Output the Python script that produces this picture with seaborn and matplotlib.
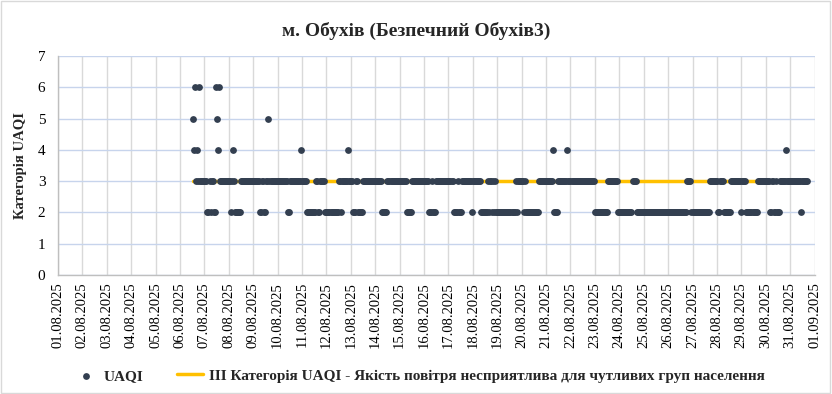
import matplotlib
matplotlib.use('Agg')
import matplotlib.pyplot as plt
import matplotlib.dates as mdates
from matplotlib.patches import Rectangle
import seaborn as sns
import pandas as pd
import numpy as np

# Data: hourly UAQI category, as runs of (level, hours)
start_time = '2025-08-06 13:00'
uaqi_runs = [
    (5, 1), (4, 1), (6, 1), (3, 1), (4, 1), (3, 1), (6, 1), (3, 7),
    (2, 2), (3, 1), (2, 1), (3, 2), (2, 2), (6, 1), (5, 1), (4, 1), (6, 1), (3, 11),
    (2, 1), (3, 1), (4, 1), (3, 1), (2, 6), (3, 19),
    (2, 2), (3, 2), (2, 2), (3, 2), (5, 1), (3, 18),
    (2, 2), (3, 11), (4, 1), (3, 5), (2, 9), (3, 2), (2, 2), (3, 5), (2, 13),
    (3, 2), (2, 1), (3, 6), (4, 1), (3, 4),
    (2, 3), (3, 2), (2, 5), (3, 19), (2, 5), (3, 19), (2, 5), (3, 17),
    (2, 3), (3, 1), (2, 3), (3, 17), (2, 4), (3, 1), (2, 3), (3, 10), (2, 1), (3, 8), (2, 7),
    (3, 1), (2, 1), (3, 2), (2, 1), (3, 1), (2, 1), (3, 1), (2, 19),
    (3, 1), (2, 1), (3, 6), (2, 1), (3, 1), (2, 13),
    (3, 14), (4, 1), (2, 4), (3, 9), (4, 1), (3, 26), (2, 13), (3, 10), (2, 14),
    (3, 4), (2, 50), (3, 4), (2, 18),
    (3, 8), (2, 2), (3, 4), (2, 7), (3, 10), (2, 1), (3, 4), (2, 11), (3, 12),
    (2, 2), (3, 2), (2, 2), (3, 1), (2, 3), (3, 6), (4, 1), (3, 14), (2, 1), (3, 6),
]
category_level = 3

day_start = '2025-08-01'
day_end = '2025-09-01'

title = 'м. Обухів (Безпечний Обухів3)'
y_label = 'Категорія UAQI'
series_label = 'UAQI'
category_label = 'III Категорія UAQI - Якість повітря несприятлива для чутливих груп населення'

levels = [r[0] for r in uaqi_runs]
hours = [r[1] for r in uaqi_runs]
values = np.repeat(levels, hours)
df = pd.DataFrame({
    'time': pd.date_range(start_time, periods=len(values), freq='h'),
    'UAQI': values,
})
df['category'] = category_level

sns.set_style('white')
plt.rcParams['font.family'] = ['Liberation Serif', 'DejaVu Serif']

fig = plt.figure(figsize=(8.32, 3.94), dpi=100)
ax = fig.add_axes([0.0697, 0.302, 0.9093, 0.556])

sns.lineplot(x='time', y='category', data=df, color='#ffc000', linewidth=2.5,
             ax=ax, zorder=2, label=category_label)
sns.scatterplot(x='time', y='UAQI', data=df, color='#333f50', s=24, linewidth=0,
                ax=ax, zorder=3, label=series_label)

ax.set_xlim(pd.Timestamp(day_start), pd.Timestamp(day_end))
ax.set_ylim(0, 7)
ax.set_yticks(range(0, 8))
ax.xaxis.set_major_locator(mdates.DayLocator())
ax.xaxis.set_major_formatter(mdates.DateFormatter('%d.%m.%Y'))
plt.setp(ax.get_xticklabels(), rotation=90)
ax.tick_params(axis='x', labelsize=10.5, length=0, pad=5, colors='#000000')
ax.tick_params(axis='y', labelsize=11, length=0, pad=9, colors='#000000')

ax.grid(axis='y', color='#c7d4ec', linewidth=1)
ax.grid(axis='x', color='#d9d9d9', linewidth=1)
ax.set_axisbelow(True)
for side in ['top', 'right']:
    ax.spines[side].set_visible(False)
for side in ['left', 'bottom']:
    ax.spines[side].set_color('#bfbfbf')
    ax.spines[side].set_linewidth(1)

ax.set_xlabel('')
ax.set_ylabel(y_label, fontsize=10.5, fontweight='bold', labelpad=8)
fig.suptitle(title, x=0.5, y=0.945, fontsize=14, fontweight='bold')

handles, labels = ax.get_legend_handles_labels()
order = [labels.index(series_label), labels.index(category_label)]
leg = fig.legend([handles[i] for i in order], [labels[i] for i in order],
                 loc='center', bbox_to_anchor=(0.503, 0.046), ncol=2, frameon=False,
                 prop={'weight': 'bold', 'size': 11}, handlelength=1.7,
                 columnspacing=2.2, handletextpad=0.35)
ax.get_legend().remove()

fig.patches.append(Rectangle((0.001, 0.002), 0.997, 0.995, transform=fig.transFigure,
                             fill=False, edgecolor='#d9d9d9', linewidth=1))

plt.savefig('out.png', dpi=100)
plt.close()
